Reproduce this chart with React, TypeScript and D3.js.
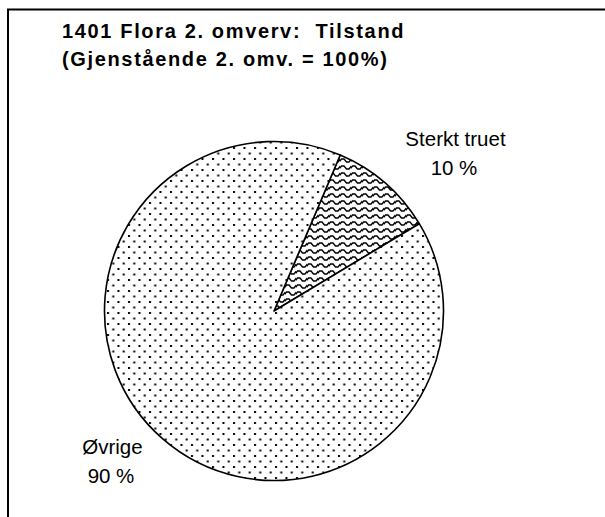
import { useEffect, useRef } from 'react';
import * as d3 from 'd3';

const titleLines = ['1401 Flora 2. omverv:  Tilstand', '(Gjenstående 2. omv. = 100%)'];
const categories = ['Sterkt truet', 'Øvrige'];
const shares = [10, 90];
const patterns = ['wave', 'dots'];

const App = () => {
  const ref = useRef<HTMLDivElement>(null);

  useEffect(() => {
    const width = 605;
    const height = 517;
    const cx = 274;
    const cy = 311;
    const radius = 169.5;
    const startDeg = 23; // first slice angle

    d3.select(ref.current).select('svg').remove();

    const svg = d3.select(ref.current)
      .append('svg')
      .attr('width', width)
      .attr('height', height)
      .style('position', 'absolute')
      .style('left', 0)
      .style('top', 0)
      .style('background', '#fff');

    const defs = svg.append('defs');

    const dots = defs.append('pattern')
      .attr('id', 'dots')
      .attr('patternUnits', 'userSpaceOnUse')
      .attr('width', 10.5)
      .attr('height', 11);
    dots.append('rect').attr('width', 10.5).attr('height', 11).attr('fill', '#fff');
    dots.append('rect').attr('x', 1).attr('y', 1).attr('width', 2).attr('height', 2).attr('fill', '#000');
    dots.append('rect').attr('x', 6.25).attr('y', 6.5).attr('width', 2).attr('height', 2).attr('fill', '#000');

    const wave = defs.append('pattern')
      .attr('id', 'wave')
      .attr('patternUnits', 'userSpaceOnUse')
      .attr('width', 11)
      .attr('height', 7);
    wave.append('rect').attr('width', 11).attr('height', 7).attr('fill', '#fff');
    wave.append('path')
      .attr('d', 'M-1,5 L1.5,2 L4,2 L6.5,5 L9,5 L11.5,2')
      .attr('fill', 'none')
      .attr('stroke', '#000')
      .attr('stroke-width', 1.4);

    // frame (clipped at right and bottom like the original)
    svg.append('path')
      .attr('d', `M8,${height + 5} L8,9.5 L${width + 5},9.5`)
      .attr('fill', 'none')
      .attr('stroke', '#000')
      .attr('stroke-width', 2);

    svg.append('g')
      .selectAll('text')
      .data(titleLines)
      .enter().append('text')
      .attr('x', 62)
      .attr('y', (d, i) => 38 + i * 28)
      .style('font-family', 'Arial, "Liberation Sans", sans-serif')
      .style('font-weight', 'bold')
      .style('font-size', '20px')
      .style('letter-spacing', '1.65px')
      .style('white-space', 'pre')
      .text(d => d);

    const data = categories.map((c, i) => ({ name: c, value: shares[i], pattern: patterns[i] }));

    const pie = d3.pie<any>()
      .sort(null)
      .value(d => d.value)
      .startAngle(startDeg * Math.PI / 180)
      .endAngle(startDeg * Math.PI / 180 + 2 * Math.PI);

    const arc = d3.arc<any>()
      .innerRadius(0)
      .outerRadius(radius);

    const g = svg.append('g')
      .attr('transform', `translate(${cx}, ${cy})`);

    g.selectAll('path')
      .data(pie(data))
      .enter().append('path')
      .attr('d', arc)
      .attr('fill', d => `url(#${d.data.pattern})`)
      .attr('stroke', '#000')
      .attr('stroke-width', 1.6)
      .attr('stroke-linejoin', 'round');

    const labelPos: Record<string, [number, number]> = {
      'Sterkt truet': [455.5, 146],
      'Øvrige': [112.5, 454],
    };

    const labels = svg.append('g')
      .style('font-family', 'Arial, "Liberation Sans", sans-serif')
      .style('font-size', '20.5px')
      .style('text-anchor', 'middle');

    data.forEach(d => {
      const [lx, ly] = labelPos[d.name];
      labels.append('text').attr('x', lx).attr('y', ly).text(d.name);
      labels.append('text').attr('x', lx - 1.5).attr('y', ly + 29).text(`${d.value} %`);
    });
  }, []);

  return <div ref={ref} />;
};

export default App;
